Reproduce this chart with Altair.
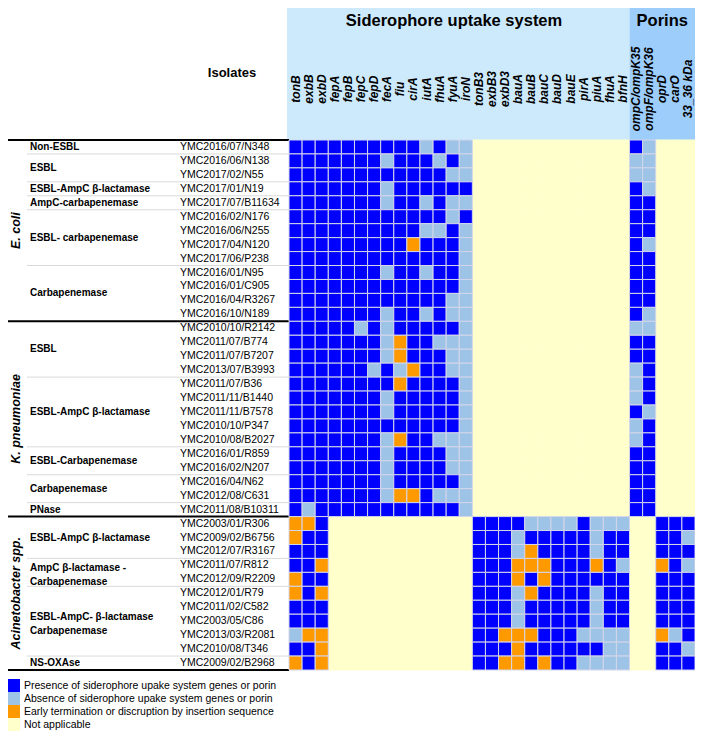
import altair as alt
import pandas as pd

# ---------------- data ----------------
genes = ["tonB", "exbB", "exbD", "fepA", "fepB", "fepC", "fepD", "fecA", "fiu", "cirA",
         "iutA", "fhuA", "fyuA", "iroN", "tonB3", "exbB3", "exbD3", "bauA", "bauB", "bauC",
         "bauD", "bauE", "pirA", "piuA", "fhuA", "bfnH",
         "ompC/ompK35", "ompF/ompK36", "oprD", "carO", "33_36 kDa"]

header_groups = ["Siderophore uptake system", "Porins"]
header_spans = [(0, 26), (26, 31)]
header_fills = ["#cdeafd", "#9dcdfb"]

species = ["E. coli", "K. pneumoniae", "Acinetobacter spp."]
species_counts = [13, 14, 11]

groups = ["Non-ESBL", "ESBL", "ESBL-AmpC β-lactamase", "AmpC-carbapenemase",
          "ESBL- carbapenemase", "Carbapenemase",
          "ESBL", "ESBL-AmpC β-lactamase", "ESBL-Carbapenemase", "Carbapenemase", "PNase",
          "ESBL-AmpC β-lactamase", "AmpC β-lactamase -\nCarbapenemase",
          "ESBL-AmpC- β-lactamase\nCarbapenemase", "NS-OXAse"]
group_counts = [1, 2, 1, 1, 4, 4,
                4, 5, 2, 2, 1,
                3, 2, 5, 1]

isolates = ["YMC2016/07/N348", "YMC2016/06/N138", "YMC2017/02/N55", "YMC2017/01/N19",
            "YMC2017/07/B11634", "YMC2016/02/N176", "YMC2016/06/N255", "YMC2017/04/N120",
            "YMC2017/06/P238", "YMC2016/01/N95", "YMC2016/01/C905", "YMC2016/04/R3267",
            "YMC2016/10/N189",
            "YMC2010/10/R2142", "YMC2011/07/B774", "YMC2011/07/B7207", "YMC2013/07/B3993",
            "YMC2011/07/B36", "YMC2011/11/B1440", "YMC2011/11/B7578", "YMC2010/10/P347",
            "YMC2010/08/B2027", "YMC2016/01/R859", "YMC2016/02/N207", "YMC2016/04/N62",
            "YMC2012/08/C631", "YMC2011/08/B10311",
            "YMC2003/01/R306", "YMC2009/02/B6756", "YMC2012/07/R3167", "YMC2011/07/R812",
            "YMC2012/09/R2209", "YMC2012/01/R79", "YMC2011/02/C582", "YMC2003/05/C86",
            "YMC2013/03/R2081", "YMC2010/08/T346", "YMC2009/02/B2968"]

# status codes per isolate, one letter per gene column (31 columns)
# B = presence, L = absence, O = early termination / IS disruption, N = not applicable
status_rows = [
    # E. coli
    "BBBBBBBBBBLBLL" + "NNNNNNNNNNNN" + "BL" + "NNN",
    "BBBBBBBLBBBLBL" + "NNNNNNNNNNNN" + "LL" + "NNN",
    "BBBBBBBBBBBBLL" + "NNNNNNNNNNNN" + "LL" + "NNN",
    "BBBBBBBLBBBBBB" + "NNNNNNNNNNNN" + "BL" + "NNN",
    "BBBBBBBLBBLBLL" + "NNNNNNNNNNNN" + "BB" + "NNN",
    "BBBBBBBBBBBBLB" + "NNNNNNNNNNNN" + "BB" + "NNN",
    "BBBBBBBBBBLLBL" + "NNNNNNNNNNNN" + "BB" + "NNN",
    "BBBBBBBBBOBBBL" + "NNNNNNNNNNNN" + "BL" + "NNN",
    "BBBBBBBBBBBBBL" + "NNNNNNNNNNNN" + "BB" + "NNN",
    "BBBBBBBLBBLBBL" + "NNNNNNNNNNNN" + "BB" + "NNN",
    "BBBBBBBBBBBBBL" + "NNNNNNNNNNNN" + "BB" + "NNN",
    "BBBBBBBBBBBBLL" + "NNNNNNNNNNNN" + "BB" + "NNN",
    "BBBBBBBLBBLBLL" + "NNNNNNNNNNNN" + "BL" + "NNN",
    # K. pneumoniae
    "BBBBBLBLBBBBBL" + "NNNNNNNNNNNN" + "LL" + "NNN",
    "BBBBBBBLOBBLLL" + "NNNNNNNNNNNN" + "BB" + "NNN",
    "BBBBBBBLOBBBLL" + "NNNNNNNNNNNN" + "BB" + "NNN",
    "BBBBBBLBLOBBLL" + "NNNNNNNNNNNN" + "LB" + "NNN",
    "BBBBBBBBOBBBBL" + "NNNNNNNNNNNN" + "LB" + "NNN",
    "BBBBBBBLBBBBBL" + "NNNNNNNNNNNN" + "LB" + "NNN",
    "BBBBBBBLBBBBBL" + "NNNNNNNNNNNN" + "BL" + "NNN",
    "BBBBBBBBBBBBBL" + "NNNNNNNNNNNN" + "LB" + "NNN",
    "BBBBBBBLOBBLLL" + "NNNNNNNNNNNN" + "LB" + "NNN",
    "BBBBBBBLBBBBLL" + "NNNNNNNNNNNN" + "BB" + "NNN",
    "BBBBBBBLBBBBLL" + "NNNNNNNNNNNN" + "BB" + "NNN",
    "BBBBBBBLBBBBBL" + "NNNNNNNNNNNN" + "BB" + "NNN",
    "BBBBBBBLOOBLLL" + "NNNNNNNNNNNN" + "BB" + "NNN",
    "BLBBBBBBBBBBBL" + "NNNNNNNNNNNN" + "BB" + "NNN",
    # Acinetobacter spp.
    "OOB" + "NNNNNNNNNNN" + "BBBBLLLLBLLL" + "NN" + "BBB",
    "OBB" + "NNNNNNNNNNN" + "BBBLBBBBBLBB" + "NN" + "BBL",
    "BBB" + "NNNNNNNNNNN" + "BBBLOBBBBLBB" + "NN" + "BBB",
    "BBO" + "NNNNNNNNNNN" + "BBBOOOBBBOBL" + "NN" + "OBL",
    "OBB" + "NNNNNNNNNNN" + "BBBOBOBBBBBB" + "NN" + "BBB",
    "OBO" + "NNNNNNNNNNN" + "BBBLOBBBBLBB" + "NN" + "BBB",
    "BBB" + "NNNNNNNNNNN" + "BBBLBBBBBLBB" + "NN" + "BBB",
    "BBB" + "NNNNNNNNNNN" + "BBBLBBBBBLBB" + "NN" + "BBB",
    "LOO" + "NNNNNNNNNNN" + "BBOOOBBBLLLL" + "NN" + "OLB",
    "BBO" + "NNNNNNNNNNN" + "BBBOBBBBBBLL" + "NN" + "BBL",
    "OBO" + "NNNNNNNNNNN" + "BBOOBOBBLLLL" + "NN" + "BBB",
]

status_names = ["Presence of siderophore upake system genes or porin",
                "Absence of siderophore upake system genes or porin",
                "Early termination or discruption by insertion sequence",
                "Not applicable"]
status_codes = ["B", "L", "O", "N"]
status_colors = ["#0000ff", "#9dc3e6", "#ff9900", "#ffffcc"]

# ---------------- tables ----------------
code_to_name = dict(zip(status_codes, status_names))
cells = []
for r, row in enumerate(status_rows):
    for c, code in enumerate(row):
        cells.append({"r": r, "r2": r + 1, "c": c, "c2": c + 1,
                      "status": code_to_name[code], "na": code == "N"})
cells_df = pd.DataFrame(cells).sort_values("na", ascending=False, kind="stable")

iso_df = pd.DataFrame({"label": isolates, "ym": [i + 0.5 for i in range(len(isolates))]})
gene_df = pd.DataFrame({"label": genes, "xm": [i + 0.5 for i in range(len(genes))]})

g_rows, start = [], 0
for name, n in zip(groups, group_counts):
    g_rows.append({"label": name, "ym": start + n / 2, "b": start,
                   "multi": "\n" in name})
    start += n
grp_df = pd.DataFrame(g_rows)

s_rows, start = [], 0
for name, n in zip(species, species_counts):
    s_rows.append({"label": name, "ym": start + n / 2, "b": start})
    start += n
sp_df = pd.DataFrame(s_rows)
thick_df = pd.DataFrame({"b": list(sp_df["b"]) + [start]})
thin_df = grp_df[~grp_df["b"].isin(thick_df["b"])][["b"]]

head_df = pd.DataFrame({"label": header_groups,
                        "x0": [s[0] - 0.15 if s[0] == 0 else s[0] for s in header_spans],
                        "x1": [s[1] for s in header_spans],
                        "xm": [12.6, 28.5],
                        "y0": [-9.65] * 2, "y1": [0] * 2, "ym": [-8.55] * 2,
                        "fill": header_fills})

# ---------------- scales ----------------
NR = len(isolates)
NC = len(genes)
W, H = 406, 530
xs = alt.Scale(domain=[0, NC], nice=False, zero=False)
ys = alt.Scale(domain=[0, NR], nice=False, zero=False, reverse=True)
FONT = "Liberation Sans"


def X(f):
    return alt.X(f, type="quantitative", scale=xs, axis=None)


def Y(f):
    return alt.Y(f, type="quantitative", scale=ys, axis=None)


header_box = alt.Chart(head_df).mark_rect().encode(
    x=X("x0"), x2="x1", y=Y("y0"), y2="y1",
    fill=alt.Fill("fill:N", scale=None))

header_text = alt.Chart(head_df).mark_text(
    font=FONT, fontSize=16.5, fontWeight="bold", color="black",
    align="center", baseline="middle").encode(x=X("xm"), y=Y("ym"), text="label:N")

gene_text = alt.Chart(gene_df).mark_text(
    font=FONT, fontSize=12, fontWeight="bold", fontStyle="italic", color="black",
    angle=270, align="center", baseline="middle").encode(
    x=X("xm"), y=alt.value(-51), text="label:N")

cell_rect = alt.Chart(cells_df).mark_rect(strokeWidth=1).encode(
    x=X("c"), x2="c2", y=Y("r"), y2="r2",
    color=alt.Color("status:N",
                    scale=alt.Scale(domain=status_names, range=status_colors),
                    legend=alt.Legend(title=None, orient="none", legendX=-282, legendY=539,
                                      direction="vertical", symbolType="square",
                                      symbolSize=169, symbolStrokeWidth=0,
                                      symbolOpacity=1, rowPadding=0, padding=0,
                                      labelFont=FONT, labelFontSize=10.5,
                                      labelColor="black", labelOffset=4,
                                      labelLimit=400)),
    stroke=alt.condition("datum.na", alt.value("#ffffcc"), alt.value("#d4d6ea")))

iso_text = alt.Chart(iso_df).mark_text(
    font=FONT, fontSize=10.5, color="black", align="left", baseline="middle").encode(
    x=alt.value(-109), y=Y("ym"), text="label:N")

grp_single = alt.Chart(grp_df).transform_filter("!datum.multi").mark_text(
    font=FONT, fontSize=10, fontWeight="bold", color="black", align="left",
    baseline="middle").encode(
    x=alt.value(-259), y=Y("ym"), text="label:N")

grp_multi = alt.Chart(grp_df).transform_filter("datum.multi").mark_text(
    font=FONT, fontSize=10, fontWeight="bold", color="black", align="left",
    baseline="middle", lineBreak="\n", lineHeight=13.5, dy=-4).encode(
    x=alt.value(-259), y=Y("ym"), text="label:N")

sp_text = alt.Chart(sp_df).mark_text(
    font=FONT, fontSize=12.5, fontWeight="bold", fontStyle="italic", color="black",
    angle=270, align="center", baseline="middle").encode(
    x=alt.value(-273), y=Y("ym"), text="label:N")

iso_title = alt.Chart(pd.DataFrame({"t": ["Isolates"]})).mark_text(
    font=FONT, fontSize=13, fontWeight="bold", color="black",
    align="center", baseline="middle").encode(
    x=alt.value(-57), y=alt.value(-67), text="t:N")

thin_rules = alt.Chart(thin_df).mark_rule(color="#dadada", strokeWidth=1).encode(
    x=alt.value(-262), x2=alt.value(0), y=Y("b"))

thick_rules = alt.Chart(thick_df).mark_rule(color="black", strokeWidth=2).encode(
    x=alt.value(-282), x2=alt.value(0), y=Y("b"))

chart = alt.layer(
    header_box, thin_rules, thick_rules, header_text, gene_text, cell_rect, iso_text,
    grp_single, grp_multi, sp_text, iso_title
).properties(
    width=W, height=H,
    autosize=alt.AutoSizeParams(type="none"),
    padding={"left": 281, "top": 132, "right": 0, "bottom": 61},
).configure_view(stroke=None)

chart.save("out.html", embed_options={"renderer": "svg", "actions": False})
